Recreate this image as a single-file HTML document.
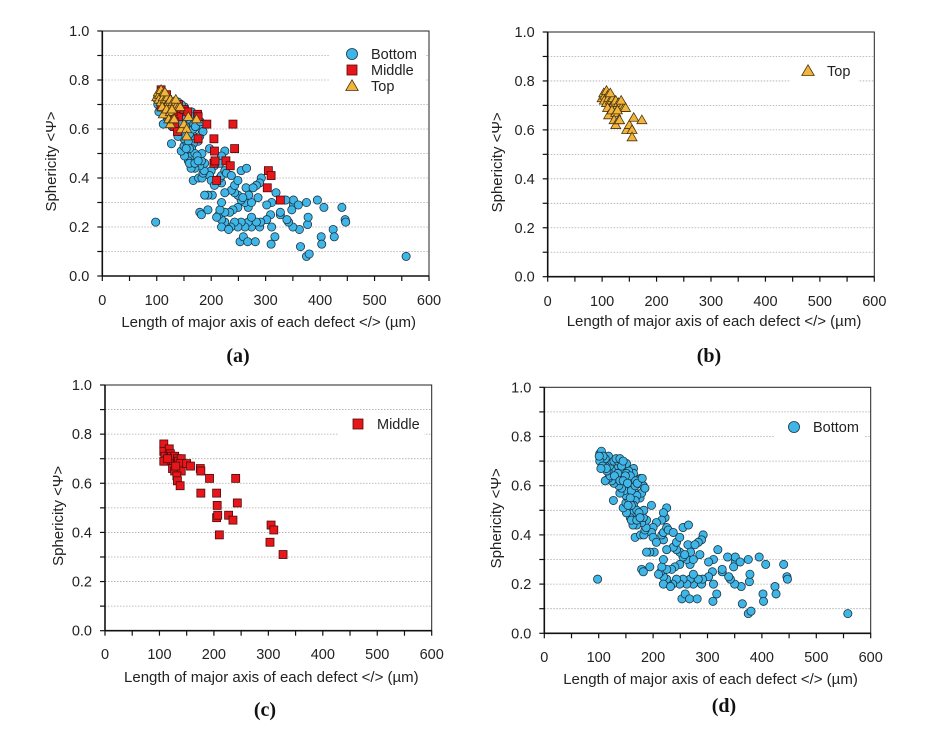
<!DOCTYPE html>
<html><head><meta charset="utf-8"><style>
body{margin:0;background:#fff;}
svg{display:block;font-family:"Liberation Sans",Arial,sans-serif;}
</style></head><body>
<svg id="fig" width="925" height="756" viewBox="0 0 925 756" xmlns="http://www.w3.org/2000/svg"></svg>
<script>
const bottomX=[98,558,375,395,407,440,446,447,424,426,402,403,364,375,380,377,378,362,350,342,339,351,351,360,348,337,327,327,311,319,309,317,310,302,302,311,289,291,280,274,268,262,255,249,243,236,228,225,219,214,210,219,232,253,259,267,281,283,274,268,262,255,249,243,237,243,249,255,265,264,274,286,292,289,283,277,269,258,249,240,234,225,216,219,225,219,216,219,225,228,237,222,225,219,216,206,200,197,200,206,202,194,188,194,179,182,167,177,183,185,187,197,188,179,170,163,179,182,183,176,179,182,177,164,164,155,159,165,170,167,164,164,170,158,160,151,145,150,154,150,147,139,142,137,133,127,128,124,118,112,121,126,131,136,141,147,151,142,135,129,115,120,124,118,112,105,102,105,108,102,107,114,104,101,128,136,142,132,139,145,151,158,149,139,145,153,160,158,160,154,174,170,176,167,168,171,180,185];
const bottomY=[.22,.08,.30,.31,.28,.28,.23,.22,.19,.16,.16,.13,.12,.08,.09,.21,.24,.19,.20,.22,.23,.29,.31,.29,.27,.31,.25,.26,.30,.34,.25,.16,.13,.29,.23,.20,.20,.22,.22,.20,.22,.20,.22,.20,.22,.20,.20,.22,.23,.25,.24,.20,.19,.14,.16,.14,.14,.22,.24,.28,.30,.31,.33,.34,.35,.37,.39,.43,.44,.36,.30,.32,.40,.38,.37,.36,.33,.32,.28,.27,.26,.26,.27,.30,.34,.38,.40,.41,.43,.42,.41,.47,.51,.49,.46,.45,.43,.41,.39,.37,.33,.33,.33,.27,.26,.25,.39,.40,.40,.42,.43,.52,.46,.45,.44,.44,.49,.47,.50,.55,.57,.60,.63,.67,.65,.66,.60,.58,.56,.54,.52,.49,.50,.47,.46,.49,.51,.53,.55,.56,.58,.57,.59,.60,.62,.54,.61,.62,.63,.62,.64,.66,.67,.68,.70,.69,.69,.66,.65,.64,.66,.68,.70,.72,.71,.72,.73,.74,.72,.70,.68,.67,.67,.72,.70,.70,.68,.71,.71,.70,.65,.64,.64,.62,.62,.61,.58,.55,.52,.52,.49,.46,.47,.60,.62,.61,.63,.59];
const middleX=[108,108,110,112,108,118,120,122,125,128,130,126,124,128,133,135,140,138,140,132,133,138,150,157,175,176,176,192,205,206,205,207,210,227,235,240,243,303,305,310,327,115,130];
const middleY=[.76,.73,.71,.69,.69,.74,.72,.71,.70,.71,.68,.67,.66,.65,.70,.69,.70,.68,.65,.63,.61,.59,.68,.67,.66,.65,.56,.62,.56,.51,.46,.47,.39,.47,.45,.62,.52,.36,.43,.41,.31,.70,.67];
const topX=[100,103,105,108,110,104,108,112,115,118,120,122,125,128,130,132,135,138,140,143,110,112,118,125,128,122,125,130,132,145,150,155,155,158,173,115,135];
const topY=[.73,.75,.74,.76,.74,.72,.71,.73,.72,.70,.73,.71,.72,.70,.71,.69,.71,.70,.69,.69,.69,.66,.68,.67,.68,.64,.62,.64,.64,.60,.62,.60,.57,.65,.64,.75,.72];
const xTicks=[0,100,200,300,400,500,600];
const yTicks=[0.0,0.2,0.4,0.6,0.8,1.0];

const NS="http://www.w3.org/2000/svg";
const svg=document.getElementById('fig');
function mk(tag,attrs,parent){const e=document.createElementNS(NS,tag);for(const k in attrs)e.setAttribute(k,attrs[k]);(parent||svg).appendChild(e);return e;}

const panels=[
 {id:'a',x0:102.3,x1:429,y0:276,y1:31,tickY:305,titleY:327,ytx:51,series:['bottom','middle','top'],leg:{x:352,y:54,box:[330,40,96,56]},cap:[238,362]},
 {id:'b',x0:547.7,x1:874.3,y0:276.7,y1:32,tickY:306,titleY:326,ytx:497,series:['top'],leg:{x:808,y:71,box:[790,57,68,26]},cap:[709,362]},
 {id:'c',x0:105,x1:431.7,y0:630.7,y1:385,tickY:659,titleY:682,ytx:58,series:['middle'],leg:{x:358,y:424,box:[338,410,86,28]},cap:[265,716]},
 {id:'d',x0:544.3,x1:870.7,y0:633.3,y1:387.3,tickY:662,titleY:684,ytx:496,series:['bottom'],leg:{x:794,y:427,box:[775,413,90,28]},cap:[724,712]}
];
const style={bottom:{fill:'#3fb6e8',name:'Bottom'},middle:{fill:'#e8161a',name:'Middle'},top:{fill:'#f2b43a',name:'Top'}};
const dataX={bottom:bottomX,middle:middleX,top:topX};
const dataY={bottom:bottomY,middle:middleY,top:topY};

function marker(kind,cx,cy,g,sc){
  sc=sc||1;
  let e;
  if(kind==='bottom') e=mk('circle',{cx:cx,cy:cy,r:4.1*sc,fill:style.bottom.fill,stroke:'#1d3340','stroke-width':0.8},g);
  else if(kind==='middle') e=mk('rect',{x:cx-4*sc,y:cy-4*sc,width:8*sc,height:8*sc,fill:style.middle.fill,stroke:'#4a0c0c','stroke-width':0.8},g);
  else {const h=5*sc;e=mk('polygon',{points:`${cx},${cy-h} ${cx+h},${cy+h*0.72} ${cx-h},${cy+h*0.72}`,fill:style.top.fill,stroke:'#4a3510','stroke-width':0.8},g);}
  return e;
}

panels.forEach(p=>{
  const g=mk('g',{});
  
  
  const sx=v=>p.x0+(v/600)*(p.x1-p.x0);
  const sy=v=>p.y0+(v/1)*(p.y1-p.y0);
  for(let i=1;i<10;i++){
    const gl=mk('line',{x1:p.x0,x2:p.x1,y1:sy(i/10),y2:sy(i/10),stroke:'#aaa','stroke-width':0.8,'stroke-dasharray':'1.5,1.5'},g);
    
    
  }
  const lb=mk('rect',{x:p.leg.box[0],y:p.leg.box[1],width:p.leg.box[2],height:p.leg.box[3],fill:'#fff'},g);
  
  
  const fr=mk('rect',{x:p.x0,y:p.y1,width:p.x1-p.x0,height:p.y0-p.y1,fill:'none',stroke:'#222','stroke-width':1},g);
  
  
  mk('line',{x1:p.x0,x2:p.x1,y1:p.y0,y2:p.y0,stroke:'#111','stroke-width':1.6},g);
  mk('line',{x1:p.x0,x2:p.x0,y1:p.y0,y2:p.y1,stroke:'#111','stroke-width':1.6},g);
  for(let v=0;v<=600;v+=50){mk('line',{x1:sx(v),x2:sx(v),y1:p.y0,y2:p.y0+5,stroke:'#111','stroke-width':1.2},g);}
  for(let i=0;i<=10;i++){mk('line',{x1:p.x0-5,x2:p.x0,y1:sy(i/10),y2:sy(i/10),stroke:'#111','stroke-width':1.2},g);}
  xTicks.forEach(v=>{
    const t=mk('text',{x:sx(v),y:p.tickY,'text-anchor':'middle','font-size':14.5,fill:'#222'},g);
    t.textContent=v;
    
    
  });
  yTicks.forEach(v=>{
    const t=mk('text',{x:p.x0-13,y:sy(v)+5,'text-anchor':'end','font-size':14.5,fill:'#222'},g);
    t.textContent=v.toFixed(1);
    
    
  });
  const xt=mk('text',{x:(p.x0+p.x1)/2+3,y:p.titleY,'text-anchor':'middle','font-size':15,fill:'#222'},g);
  xt.textContent='Length of major axis of each defect </> (µm)';
  
  
  const ymid=(p.y0+p.y1)/2+8;
  const yt=mk('text',{x:p.ytx,y:ymid,'text-anchor':'middle','font-size':15,fill:'#222',transform:`rotate(-90 ${p.ytx} ${ymid}) translate(0 5)`},g);
  yt.textContent='Sphericity <Ψ>';
  
  
  p.series.forEach(s=>{
    const sg=mk('g',{},g);
    
    
    const xs=dataX[s],ys=dataY[s];
    for(let i=0;i<xs.length;i++){
      const m=marker(s,sx(xs[i]),sy(ys[i]),sg);
      
      
    }
  });
  p.series.forEach((s,i)=>{
    const ly=p.leg.y+i*16;
    const m=marker(s,p.leg.x,ly,g,s==='bottom'?1.35:1.25);
    
    
    const t=mk('text',{x:p.leg.x+19,y:ly+5,'font-size':14.5,fill:'#222'},g);
    t.textContent=style[s].name;
    
    
  });
  const c=mk('text',{x:p.cap[0],y:p.cap[1],'text-anchor':'middle','font-size':20,'font-weight':'bold','font-family':'"Liberation Serif",serif',fill:'#111'},g);
  c.textContent='('+p.id+')';
  
  
});
</script>
</body></html>
